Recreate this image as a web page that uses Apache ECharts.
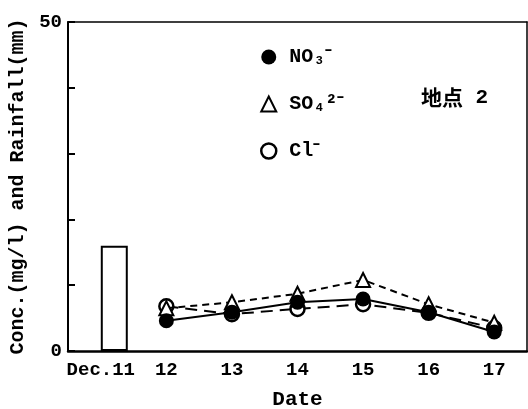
<!DOCTYPE html>
<html>
<head>
<meta charset="utf-8">
<script src="https://cdn.jsdelivr.net/npm/echarts@6/dist/echarts.min.js"></script>
<style>
  html, body { margin: 0; padding: 0; background: #fff; }
  #chart { width: 528px; height: 409px; }
</style>
</head>
<body>
<div id="chart"></div>
<script>
// 日付（カテゴリ）
var dates = ['Dec.11', '12', '13', '14', '15', '16', '17'];
// 降水量 (mm)
var rainfall = [16.0, '-', '-', '-', '-', '-', '-'];
// 濃度 (mg/l)
var no3 = ['-', 4.6, 5.9, 7.4, 7.9, 5.9, 2.9];
var so4 = ['-', 6.5, 7.4, 8.7, 10.8, 7.1, 4.3];
var cl  = ['-', 6.8, 5.6, 6.4, 7.1, 5.8, 3.5];
var yTicks = [0, 50];

var font = 'Liberation Mono';
var myChart = echarts.init(document.getElementById('chart'));

var option = {
    animation: false,
    backgroundColor: '#fff',
    title: {
        text: '{c|地点}{n| 2}',
        left: 416,
        top: 82,
        textStyle: {
            rich: {
                c: { fontFamily: 'Noto Sans CJK JP', fontSize: 21, color: '#000' },
                n: { fontFamily: font, fontWeight: 'bold', fontSize: 21, color: '#000' }
            }
        }
    },
    legend: {
        orient: 'vertical',
        left: 255,
        top: 42,
        itemWidth: 15,
        itemHeight: 15,
        itemGap: 27,
        textStyle: { fontFamily: font, fontWeight: 'bold', fontSize: 20, color: '#000', padding: [0, 0, 0, 8] },
        data: [
            { name: 'NO₃⁻', icon: 'circle', itemStyle: { color: '#000', borderWidth: 0 } },
            { name: 'SO₄²⁻', icon: 'triangle', itemStyle: { color: '#fff', borderColor: '#000', borderWidth: 2 } },
            { name: 'Cl⁻', icon: 'circle', itemStyle: { color: '#fff', borderColor: '#000', borderWidth: 2.5 } }
        ]
    },
    grid: { left: 68, right: 1, top: 22, bottom: 58, outerBoundsMode: 'none' },
    xAxis: [
        {
            type: 'category',
            data: dates,
            boundaryGap: true,
            name: 'Date',
            nameLocation: 'middle',
            nameGap: 38,
            nameTextStyle: { fontFamily: font, fontWeight: 'bold', fontSize: 21, color: '#000' },
            axisLine: { lineStyle: { color: '#000', width: 2.5 } },
            axisTick: { inside: true, length: 6, interval: 0, lineStyle: { width: 2 } },
            axisLabel: { fontFamily: font, fontWeight: 'bold', fontSize: 19, color: '#000', margin: 10, interval: 0 },
            splitLine: { show: false }
        },
        {
            type: 'category',
            position: 'top',
            data: dates,
            axisLine: { onZero: false, lineStyle: { color: '#000', width: 1.5 } },
            axisTick: { show: false },
            axisLabel: { show: false }
        }
    ],
    yAxis: [
        {
            type: 'value',
            min: 0,
            max: 50,
            interval: 10,
            name: 'Conc.(mg/l) and Rainfall(mm)',
            nameLocation: 'middle',
            nameGap: 36,
            nameTextStyle: { fontFamily: font, fontWeight: 'bold', fontSize: 20, color: '#000' },
            axisLine: { show: true, lineStyle: { color: '#000', width: 2 } },
            axisTick: { show: true, inside: true, length: 7, lineStyle: { width: 2 } },
            axisLabel: {
                fontFamily: font, fontWeight: 'bold', fontSize: 19, color: '#000', margin: 6,
                formatter: function (v) { return yTicks.indexOf(v) >= 0 ? String(v) : ''; }
            },
            splitLine: { show: false }
        },
        {
            type: 'value',
            position: 'right',
            min: 0,
            max: 50,
            interval: 10,
            axisLine: { show: true, onZero: false, lineStyle: { color: '#000', width: 1.5 } },
            axisTick: { show: false },
            axisLabel: { show: false },
            splitLine: { show: false }
        }
    ],
    series: [
        {
            // 空の系列（棒の位置合わせ用）
            name: 'pad',
            type: 'bar',
            barWidth: 27,
            barGap: 0,
            data: ['-', '-', '-', '-', '-', '-', '-']
        },
        {
            name: 'Rainfall',
            type: 'bar',
            barWidth: 27,
            barGap: 0,
            itemStyle: { color: '#fff', borderColor: '#000', borderWidth: 2 },
            data: rainfall
        },
        {
            name: 'Cl⁻',
            type: 'line',
            z: 3,
            data: cl,
            symbol: 'circle',
            symbolSize: 14,
            lineStyle: { color: '#000', width: 2, type: [12, 7] },
            itemStyle: { color: '#fff', borderColor: '#000', borderWidth: 2.5 }
        },
        {
            name: 'SO₄²⁻',
            type: 'line',
            z: 4,
            data: so4,
            symbol: 'triangle',
            symbolSize: 14,
            lineStyle: { color: '#000', width: 2, type: [7, 5] },
            itemStyle: { color: '#fff', borderColor: '#000', borderWidth: 2 }
        },
        {
            name: 'NO₃⁻',
            type: 'line',
            z: 5,
            data: no3,
            symbol: 'circle',
            symbolSize: 15,
            lineStyle: { color: '#000', width: 2 },
            itemStyle: { color: '#000' }
        }
    ]
};

myChart.setOption(option);
</script>
</body>
</html>
